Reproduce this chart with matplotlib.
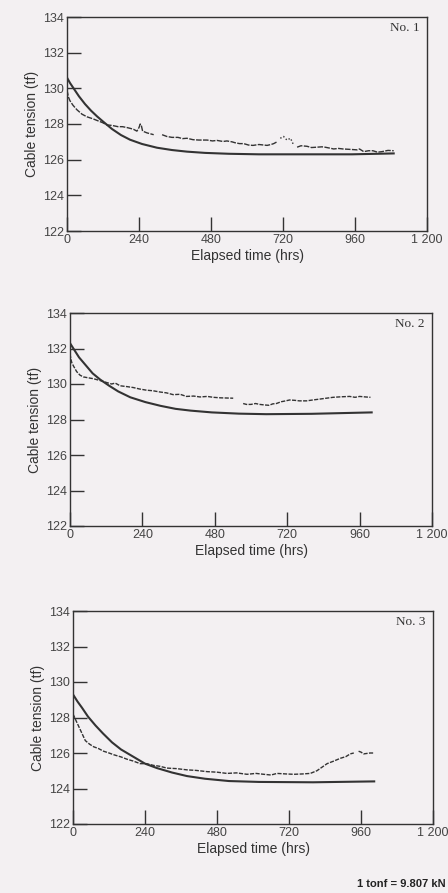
import matplotlib
matplotlib.use("Agg")
import matplotlib.pyplot as plt

# ---------------- data ----------------
# Panel No. 1
fit1_t = [0, 10, 20, 40, 60, 80, 100, 120, 150, 180, 210, 250, 300, 350, 400, 460, 540, 640, 800, 950, 1089]
fit1_v = [130.6, 130.3, 130.05, 129.55, 129.12, 128.75, 128.43, 128.14, 127.72, 127.38, 127.12, 126.88, 126.67,
          126.54, 126.45, 126.38, 126.33, 126.3, 126.3, 126.3, 126.35]
meas1a_t = [0, 5, 10, 20, 33, 50, 67, 85, 100, 118, 133, 150, 170, 185, 200, 212, 222, 233, 240, 244, 248, 252, 267, 289]
meas1a_v = [129.9, 129.5, 129.3, 129.05, 128.8, 128.55, 128.4, 128.3, 128.2, 128.08, 127.95, 127.92, 127.85, 127.85,
            127.8, 127.75, 127.7, 127.6, 127.8, 128.0, 127.9, 127.6, 127.5, 127.4]
meas1b_t = [317, 333, 350, 370, 385, 400, 420, 440, 467, 485, 500, 520, 533, 550, 560, 575, 589, 605, 620, 640,
            667, 680, 689, 700]
meas1b_v = [127.4, 127.3, 127.25, 127.25, 127.18, 127.2, 127.12, 127.1, 127.1, 127.05, 127.08, 127.02, 127.05,
            127.0, 126.95, 126.9, 126.9, 126.82, 126.8, 126.85, 126.8, 126.85, 126.9, 127.0]
meas1c_t = [711, 722, 733, 745, 756]
meas1c_v = [127.2, 127.3, 127.1, 127.2, 126.8]
meas1d_t = [767, 780, 800, 815, 833, 850, 860, 875, 889, 905, 920, 940, 967, 975, 989, 1005, 1020, 1035, 1050, 1070, 1089]
meas1d_v = [126.7, 126.78, 126.75, 126.68, 126.7, 126.72, 126.7, 126.65, 126.6, 126.63, 126.6, 126.58, 126.55,
            126.6, 126.45, 126.5, 126.5, 126.42, 126.45, 126.52, 126.5]

# Panel No. 2
fit2_t = [0, 15, 30, 50, 75, 100, 130, 160, 200, 250, 300, 350, 400, 470, 560, 650, 800, 1000]
fit2_v = [132.3, 131.9, 131.5, 131.1, 130.6, 130.25, 129.9, 129.58, 129.25, 128.98, 128.77, 128.6, 128.5,
          128.4, 128.33, 128.3, 128.32, 128.4]
meas2a_t = [0, 3, 6, 12, 22, 33, 44, 60, 77, 99, 118, 138, 150, 166, 190, 210, 230, 254, 275, 298, 320, 342,
            365, 386, 410, 431, 455, 475, 500, 541]
meas2a_v = [131.7, 131.4, 131.2, 131.0, 130.7, 130.5, 130.4, 130.35, 130.3, 130.2, 130.1, 130.0, 130.05, 129.9,
            129.85, 129.8, 129.72, 129.65, 129.62, 129.55, 129.5, 129.4, 129.42, 129.3, 129.32, 129.27, 129.3,
            129.25, 129.22, 129.2]
meas2b_t = [574, 585, 600, 615, 629, 645, 660, 672, 684, 700, 715, 728, 745, 760, 784, 805, 828, 850, 872,
            900, 927, 945, 960, 980, 996]
meas2b_v = [128.9, 128.85, 128.85, 128.9, 128.85, 128.82, 128.8, 128.88, 128.9, 129.0, 129.05, 129.1, 129.08,
            129.05, 129.05, 129.1, 129.15, 129.2, 129.25, 129.28, 129.3, 129.25, 129.3, 129.27, 129.25]

# Panel No. 3
fit3_t = [0, 15, 30, 50, 75, 100, 130, 160, 200, 240, 280, 330, 380, 440, 520, 620, 800, 1004]
fit3_v = [129.3, 128.9, 128.55, 128.05, 127.55, 127.1, 126.6, 126.2, 125.8, 125.4, 125.15, 124.9, 124.7,
          124.55, 124.42, 124.37, 124.35, 124.4]
meas3a_t = [0, 8, 19, 30, 41, 55, 69, 85, 102, 120, 136, 160, 180, 200, 224, 245, 269, 290, 313, 345, 380,
            410, 447, 480, 513, 545, 580, 610, 636, 660, 680, 710, 736, 765, 791, 813, 830, 847, 870, 891, 910,
            924, 936]
meas3a_v = [128.2, 127.9, 127.5, 127.1, 126.7, 126.5, 126.35, 126.25, 126.1, 126.0, 125.9, 125.78, 125.65,
            125.55, 125.4, 125.4, 125.3, 125.25, 125.15, 125.12, 125.05, 125.02, 124.95, 124.92, 124.85, 124.88,
            124.8, 124.85, 124.8, 124.76, 124.85, 124.82, 124.8, 124.82, 124.85, 125.0, 125.2, 125.4, 125.55,
            125.7, 125.8, 125.95, 126.0]
meas3b_t = [952, 960, 969, 990, 1004]
meas3b_v = [126.1, 126.05, 125.95, 126.0, 126.0]

panel_names = ["No. 1", "No. 2", "No. 3"]
yticks = [122, 124, 126, 128, 130, 132, 134]
xticks = [0, 240, 480, 720, 960, 1200]
xticklabels = ["0", "240", "480", "720", "960", "1 200"]

# ---------------- drawing ----------------
W, H = 448, 893
bg = "#f3f0f2"
ink = "#333333"
fig = plt.figure(figsize=(W / 100, H / 100), dpi=100, facecolor=bg)

# axes boxes in pixels: left, right, top(134), bottom(122)
boxes = [(67, 427, 17, 231), (70, 432, 313, 526), (73, 433, 611, 824)]

fits = [(fit1_t, fit1_v), (fit2_t, fit2_v), (fit3_t, fit3_v)]
meas = [
    [(meas1a_t, meas1a_v), (meas1b_t, meas1b_v), (meas1c_t, meas1c_v), (meas1d_t, meas1d_v)],
    [(meas2a_t, meas2a_v), (meas2b_t, meas2b_v)],
    [(meas3a_t, meas3a_v), (meas3b_t, meas3b_v)],
]
meas_styles = [
    [(0, (4, 1)), (0, (4, 1)), (0, (1, 1.5)), (0, (4, 1))],
    [(0, (3, 1)), (0, (3, 1))],
    [(0, (3, 1)), (0, (3, 1))],
]

for i, (l, r, t, b) in enumerate(boxes):
    ax = fig.add_axes([l / W, 1 - b / H, (r - l) / W, (b - t) / H])
    ax.set_facecolor(bg)
    ax.set_xlim(0, 1200)
    ax.set_ylim(122, 134)
    ft, fv = fits[i]
    ax.plot(ft, fv, color=ink, lw=1.5)
    for (mt, mv), ls in zip(meas[i], meas_styles[i]):
        ax.plot(mt, mv, color=ink, lw=1.0, linestyle=ls)
    ax.set_xticks(xticks)
    ax.set_xticklabels(xticklabels)
    ax.set_yticks(yticks)
    ax.tick_params(direction="in", length=10, width=1.0, color=ink, labelcolor="#444444",
                   labelsize=9, pad=2)
    for lab in ax.get_xticklabels() + ax.get_yticklabels():
        lab.set_family("Liberation Sans")
    for s in ax.spines.values():
        s.set_color(ink)
        s.set_linewidth(1.0)
    ax.set_xlabel("Elapsed time (hrs)", fontsize=10, color=ink, family="Liberation Sans", labelpad=2)
    ax.set_ylabel("Cable tension (tf)", fontsize=10, color=ink, family="Liberation Sans", labelpad=3)
    ax.text(0.98, 0.975, panel_names[i], transform=ax.transAxes, ha="right", va="top",
            fontsize=9.5, family="Liberation Serif", color=ink)

fig.text(446 / W, 1 - 884 / H, "1 tonf = 9.807 kN", fontsize=8, fontweight="bold",
         family="Liberation Sans", color="#222222", ha="right", va="center")

fig.savefig("out.png", dpi=100, facecolor=bg)
